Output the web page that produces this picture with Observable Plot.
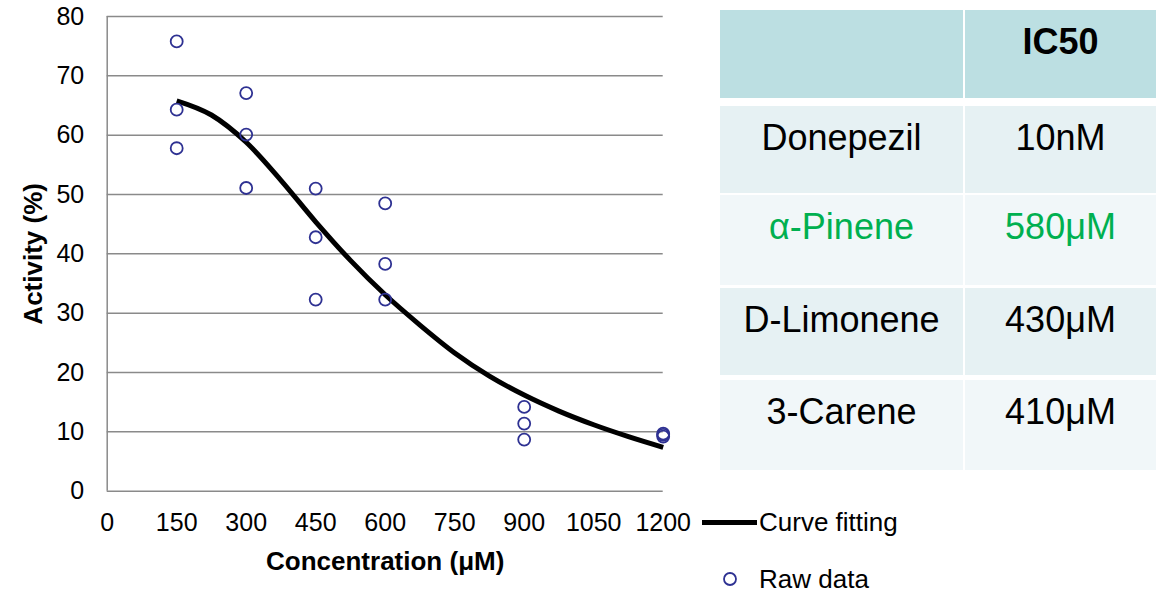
<!DOCTYPE html>
<html>
<head>
<meta charset="utf-8">
<script src="https://cdn.jsdelivr.net/npm/d3@7"></script>
<script src="https://cdn.jsdelivr.net/npm/@observablehq/plot@0.6"></script>
<style>
  html, body { margin: 0; padding: 0; background: #ffffff; }
  #wrap { position: relative; width: 1156px; height: 593px; overflow: hidden;
          font-family: "Liberation Sans", Arial, Helvetica, sans-serif; color: #000; }
  #chart { position: absolute; left: 0; top: 0; }
  .legend-line { position: absolute; left: 702px; top: 520px; width: 55px; height: 5px; background: #000; }
  .legend-text { position: absolute; left: 759px; font-size: 26px; line-height: 26px; white-space: nowrap; }
  .legend-dot { position: absolute; left: 722px; top: 571px; }
  #ic50 { position: absolute; left: 720px; top: 10px; width: 436px;
          display: grid; grid-template-columns: 243px 191px; column-gap: 2px;
          grid-template-rows: 96px 89px 93px 92px 91px; }
  #ic50 .cell { font-size: 36px; line-height: 36px; text-align: center; padding-top: 14px;
                box-sizing: border-box; white-space: nowrap; }
  #ic50 .head { background: #bcdfe2; height: 88px; font-weight: bold; }
  #ic50 .odd { background: #e6f1f3; height: 87px; }
  #ic50 .even { background: #f1f7f9; height: 90px; }
</style>
</head>
<body>
<div id="wrap">
  <div id="chart"></div>
  <div class="legend-line"></div>
  <div class="legend-text" id="lg-fit" style="top:509px"></div>
  <svg class="legend-dot" width="16" height="16"><circle cx="8" cy="8" r="6" fill="none" stroke="#2e3192" stroke-width="1.8"/></svg>
  <div class="legend-text" id="lg-raw" style="top:566px"></div>
  <div id="ic50"></div>
</div>
<script>
// Raw activity measurements (three replicates per concentration)
const rawConc = [150, 150, 150, 300, 300, 300, 450, 450, 450, 600, 600, 600, 900, 900, 900, 1200, 1200, 1200];
const rawActivity = [75.8, 64.3, 57.8, 67.1, 60.1, 51.1, 51.0, 42.8, 32.3, 48.5, 38.3, 32.3, 14.2, 11.4, 8.7, 9.2, 9.5, 9.7];

// Fitted dose-response curve
const fitConc = [150, 225, 300, 375, 450, 525, 600, 675, 750, 825, 900, 975, 1050, 1125, 1200];
const fitActivity = [65.8, 63.4, 58.8, 52.4, 45.4, 38.9, 33.1, 28.0, 23.3, 19.4, 16.2, 13.5, 11.2, 9.2, 7.4];

// Axis ticks and labels
const xTicks = [0, 150, 300, 450, 600, 750, 900, 1050, 1200];
const yTicks = [0, 10, 20, 30, 40, 50, 60, 70, 80];
const xLabel = "Concentration (μM)";
const yLabel = "Activity (%)";
const seriesNames = ["Curve fitting", "Raw data"];

// IC50 table
const tableHeader = ["", "IC50"];
const compounds = ["Donepezil", "α-Pinene", "D-Limonene", "3-Carene"];
const ic50Values = ["10nM", "580μM", "430μM", "410μM"];
const highlighted = "α-Pinene";

const raw = rawConc.map((c, i) => ({conc: c, activity: rawActivity[i]}));
const fit = fitConc.map((c, i) => ({conc: c, activity: fitActivity[i]}));

const gridColor = "#8a8a8a";
const font = "'Liberation Sans', Arial, Helvetica, sans-serif";

const chart = Plot.plot({
  width: 700,
  height: 593,
  marginLeft: 106.7,
  marginRight: 37.3,
  marginTop: 16,
  marginBottom: 102.3,
  style: {fontFamily: font, fontSize: "25px", color: "#000", background: "transparent", overflow: "visible"},
  x: {domain: [0, 1200], ticks: xTicks, tickSize: 0, tickPadding: 22, tickFormat: "d", label: null},
  y: {domain: [0, 80], ticks: yTicks, tickSize: 0, tickPadding: 23, tickFormat: "d", label: null},
  marks: [
    Plot.gridY(yTicks, {stroke: gridColor, strokeOpacity: 1, strokeWidth: 1.5}),
    Plot.ruleX([0], {stroke: gridColor, strokeWidth: 1.5}),
    Plot.line(fit, {x: "conc", y: "activity", stroke: "#000", strokeWidth: 5, curve: "monotone-x", strokeLinecap: "butt"}),
    Plot.dot(raw, {x: "conc", y: "activity", r: 6, stroke: "#2e3192", strokeWidth: 1.8, fill: "none"}),
    Plot.text([xLabel], {frameAnchor: "bottom", lineAnchor: "middle", textAnchor: "middle", dy: 70, fontSize: 26, fontWeight: "bold", fill: "#000"}),
    Plot.text([yLabel], {frameAnchor: "left", lineAnchor: "middle", textAnchor: "middle", dx: -74, rotate: -90, fontSize: 26, fontWeight: "bold", fill: "#000"})
  ]
});
document.getElementById("chart").appendChild(chart);

document.getElementById("lg-fit").textContent = seriesNames[0];
document.getElementById("lg-raw").textContent = seriesNames[1];

// Build the IC50 table
const table = document.getElementById("ic50");
tableHeader.forEach(h => {
  const d = document.createElement("div");
  d.className = "cell head";
  d.textContent = h;
  table.appendChild(d);
});
compounds.forEach((name, i) => {
  const cls = i % 2 === 0 ? "odd" : "even";
  [name, ic50Values[i]].forEach(v => {
    const d = document.createElement("div");
    d.className = "cell " + cls;
    d.textContent = v;
    if (name === highlighted) d.style.color = "#00b050";
    table.appendChild(d);
  });
});
</script>
</body>
</html>
